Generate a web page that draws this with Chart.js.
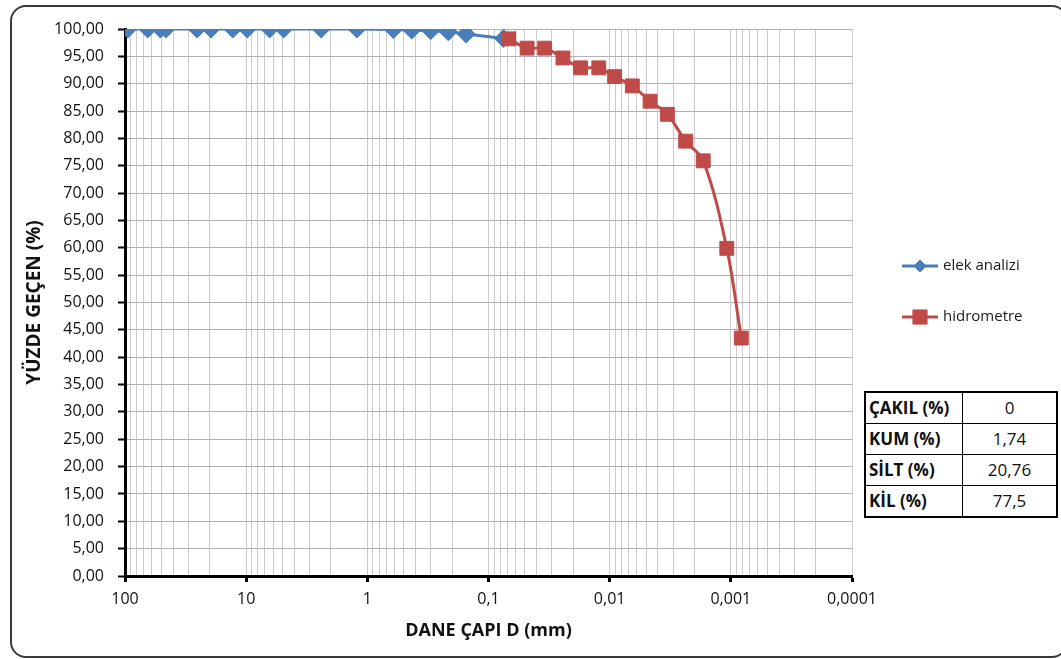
<!DOCTYPE html>
<html>
<head>
<meta charset="utf-8">
<script src="https://cdn.jsdelivr.net/npm/chart.js@4.4.1/dist/chart.umd.min.js"></script>
<style>
html,body{margin:0;padding:0;background:#fff;overflow:hidden;width:1061px;height:659px;}
#wrap{position:relative;width:1061px;height:659px;}
#c{position:absolute;left:0;top:0;}
#frame{position:absolute;left:10px;top:5px;width:1058px;height:653px;border:2px solid #3a3a3a;border-radius:16px;box-sizing:border-box;pointer-events:none;}
#tbl{position:absolute;left:864px;top:391px;border-collapse:collapse;border:2px solid #000;font-family:'Open Sans',sans-serif;font-size:17px;color:#111;background:#fff;}
#tbl td{border:1px solid #000;height:30px;padding:0 0 0 3px;line-height:30px;white-space:nowrap;}
#tbl td.l{width:93px;font-weight:bold;}
#tbl td.v{width:93px;text-align:center;padding:0;}
</style>
</head>
<body>
<div id="wrap">
<canvas id="c" width="1061" height="659"></canvas>
<table id="tbl"></table>
<div id="frame"></div>
</div>
<script>
// ---- data ----
const sieveSize = [95, 65, 51, 46, 25.4, 19.5, 12.9, 9.8, 6.4, 4.9, 2.4, 1.22, 0.61, 0.43, 0.30, 0.215, 0.153, 0.075];
const sievePass = [100, 100, 100, 100, 100, 100, 100, 100, 100, 100, 100, 100, 99.9, 99.8, 99.7, 99.5, 99.1, 98.26];
const hydroSize = [0.068, 0.048, 0.0344, 0.0243, 0.0174, 0.0123, 0.0091, 0.0065, 0.00464, 0.00334, 0.00236, 0.00169, 0.00108, 0.00082];
const hydroPass = [98.2, 96.5, 96.5, 94.7, 92.9, 92.9, 91.3, 89.6, 86.8, 84.4, 79.5, 75.9, 59.9, 43.5];
const seriesNames = ['elek analizi', 'hidrometre'];
const xDecades = [100, 10, 1, 0.1, 0.01, 0.001, 0.0001];
const xDecadeLabels = ['100', '10', '1', '0,1', '0,01', '0,001', '0,0001'];
const yMin = 0, yMax = 100, yStep = 5;
const fractionLabels = ['ÇAKIL (%)', 'KUM (%)', 'SİLT (%)', 'KİL (%)'];
const fractionValues = ['0', '1,74', '20,76', '77,5'];

// ---- table ----
const tbl = document.getElementById('tbl');
fractionLabels.forEach((lab, i) => {
  const tr = document.createElement('tr');
  const a = document.createElement('td'); a.className = 'l'; a.textContent = lab;
  const b = document.createElement('td'); b.className = 'v'; b.textContent = fractionValues[i];
  tr.appendChild(a); tr.appendChild(b); tbl.appendChild(tr);
});

// ---- chart ----
const FONT = "'Open Sans'";
const toPts = (xs, ys) => xs.map((x, i) => ({x: x, y: ys[i]}));
const decadeIndex = v => xDecades.findIndex(d => Math.abs(d - v) / d < 1e-6);

const sideLegend = {
  id: 'sideLegend',
  afterDraw(chart) {
    const ctx = chart.ctx;
    const x0 = 902, x1 = 938, rows = [266, 317];
    const markerR = [6, 10];
    chart.data.datasets.forEach((ds, i) => {
      const y = rows[i];
      ctx.save();
      ctx.strokeStyle = ds.borderColor; ctx.lineWidth = ds.borderWidth;
      ctx.beginPath(); ctx.moveTo(x0, y); ctx.lineTo(x1, y); ctx.stroke();
      ctx.fillStyle = ds.backgroundColor; ctx.strokeStyle = ds.borderColor; ctx.lineWidth = 1;
      Chart.helpers.drawPoint(ctx, {pointStyle: ds.pointStyle, radius: markerR[i], rotation: 0, borderWidth: 1}, (x0 + x1) / 2, y);
      ctx.fillStyle = '#1a1a1a';
      ctx.font = "15px " + FONT;
      ctx.textBaseline = 'middle'; ctx.textAlign = 'left';
      ctx.fillText(ds.label, x1 + 5, y);
      ctx.restore();
    });
  }
};

new Chart(document.getElementById('c'), {
  type: 'line',
  data: {
    datasets: [
      {label: seriesNames[0], data: toPts(sieveSize, sievePass), borderColor: '#4a7ebb', backgroundColor: '#4a7ebb',
       borderWidth: 3, pointStyle: 'rectRot', pointRadius: 9, pointHoverRadius: 9, pointBorderWidth: 1, tension: 0.3, order: 2},
      {label: seriesNames[1], data: toPts(hydroSize, hydroPass), borderColor: '#be4b48', backgroundColor: '#be4b48',
       borderWidth: 3, pointStyle: 'rect', pointRadius: 9.8, pointHoverRadius: 9.8, pointBorderWidth: 1, tension: 0.35, order: 1}
    ]
  },
  options: {
    responsive: false, animation: false, devicePixelRatio: 1,
    layout: {padding: {left: 10, top: 29, right: 209, bottom: 10}},
    plugins: {legend: {display: false}, tooltip: {enabled: false}},
    scales: {
      x: {
        type: 'logarithmic', reverse: true,
        min: xDecades[xDecades.length - 1], max: xDecades[0],
        afterBuildTicks: s => {
          const t = [];
          for (let e = -4; e <= 2; e++) for (let m = 1; m <= 9; m++) {
            const v = Number((m * Math.pow(10, e)).toPrecision(6));
            if (v <= xDecades[0]) t.push({value: v});
          }
          s.ticks = t;
        },
        afterFit: s => { s.height = 73; },
        ticks: {autoSkip: false, maxRotation: 0, minRotation: 0, padding: 8, color: '#111',
          font: {family: FONT, size: 16},
          callback: (v) => { const i = decadeIndex(v); return i >= 0 ? xDecadeLabels[i] : ''; }},
        grid: {color: '#cccccc', lineWidth: 1, tickLength: 6,
          tickColor: c => (c.tick && decadeIndex(c.tick.value) >= 0) ? '#000' : 'rgba(0,0,0,0)', tickWidth: 3},
        border: {color: '#000', width: 3},
        title: {display: true, text: 'DANE ÇAPI D (mm)', color: '#111', font: {family: FONT, size: 18, weight: 'bold'}, padding: {top: 0, bottom: 7}}
      },
      y: {
        min: yMin, max: yMax,
        afterFit: s => { s.width = 115; },
        ticks: {stepSize: yStep, padding: 14, color: '#111', font: {family: FONT, size: 16},
          callback: v => v.toFixed(2).replace('.', ',')},
        grid: {color: '#b0b0b0', lineWidth: 1, tickLength: 7, tickColor: '#000', tickWidth: 2},
        border: {color: '#000', width: 3},
        title: {display: true, text: 'YÜZDE GEÇEN (%)', color: '#111', font: {family: FONT, size: 19, weight: 'bold'}, padding: {top: 13}}
      }
    }
  },
  plugins: [sideLegend]
});
</script>
</body>
</html>
